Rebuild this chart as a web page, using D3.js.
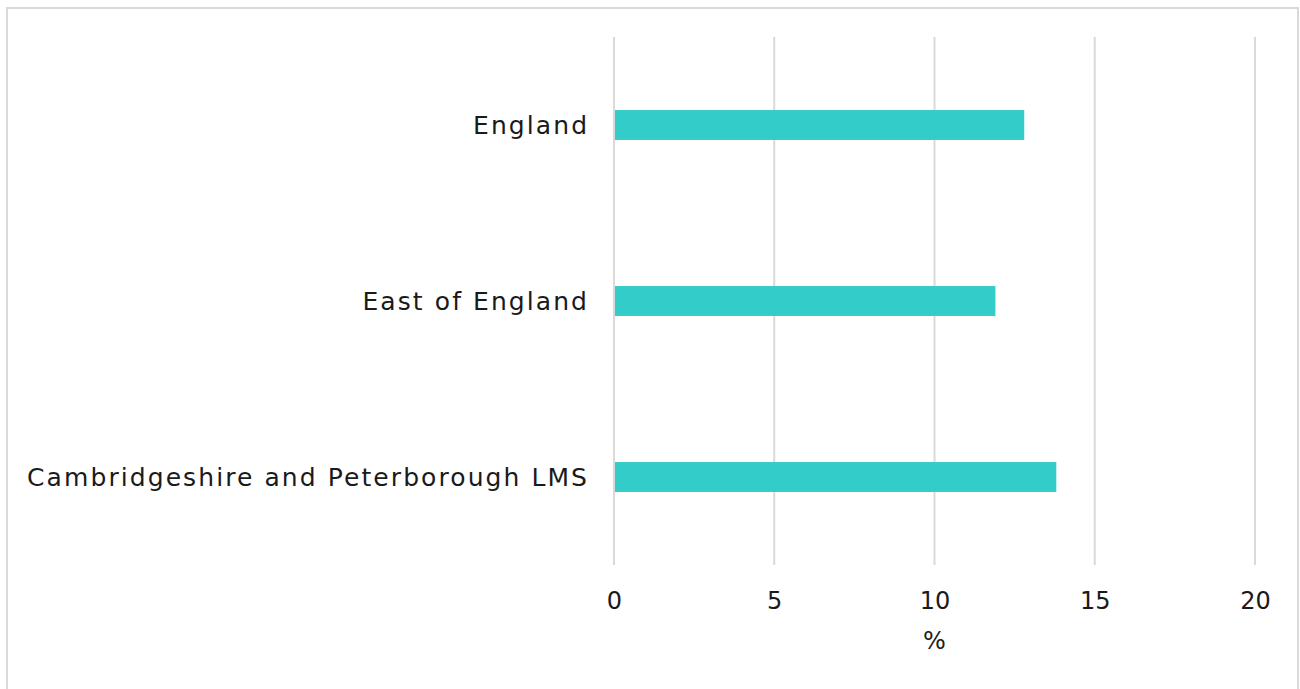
<!DOCTYPE html>
<html><head><meta charset="utf-8">
<script src="https://cdn.jsdelivr.net/npm/d3@7"></script>
<style>
html,body{margin:0;padding:0;background:#fff;}
svg{display:block;}
text{font-family:"DejaVu Sans",sans-serif;fill:#1a1a1a;}
</style></head><body>
<svg id="chart" width="1300" height="689"></svg>
<script>
const categories = ["England", "East of England", "Cambridgeshire and Peterborough LMS"];
const values = [12.8, 11.9, 13.8];
const tickValues = [0, 5, 10, 15, 20];
const axisTitle = "%";

const svg = d3.select("#chart");
const W = 1300, H = 689;
const m = {left: 614, right: 45, top: 37, bottom: 124};

svg.append("rect").attr("x", 7).attr("y", 8).attr("width", 1291).attr("height", 700)
  .attr("fill", "#fff").attr("stroke", "#d9d9d9").attr("stroke-width", 2);

const x = d3.scaleLinear().domain([0, 20]).range([m.left, W - m.right]);
const y = d3.scaleBand().domain(categories).range([m.top, H - m.bottom]).paddingInner(0.83).paddingOuter(0.415);

// gridlines
svg.append("g").selectAll("line").data(tickValues).join("line")
  .attr("x1", d => x(d)).attr("x2", d => x(d))
  .attr("y1", m.top).attr("y2", H - m.bottom)
  .attr("stroke", "#d9d9d9").attr("stroke-width", 2);

// bars
svg.append("g").selectAll("rect").data(values).join("rect")
  .attr("x", x(0) + 1).attr("y", (d, i) => y(categories[i]))
  .attr("width", d => x(d) - x(0) - 1).attr("height", y.bandwidth())
  .attr("fill", "#33CCC8");

// x axis
const xAxis = d3.axisBottom(x).tickValues(tickValues).tickSize(0).tickPadding(0);
const gx = svg.append("g").attr("transform", `translate(0,${H - m.bottom})`).call(xAxis);
gx.select(".domain").remove();
gx.selectAll("text").attr("font-size", 24).attr("dy", null).attr("y", 44)
  .style("font-family", "'DejaVu Sans',sans-serif").attr("fill", "#1a1a1a");

// y axis
const yAxis = d3.axisLeft(y).tickSize(0).tickPadding(27);
const gy = svg.append("g").attr("transform", `translate(${m.left},0)`).call(yAxis);
gy.select(".domain").remove();
const ylab = gy.selectAll("text").attr("font-size", 25).attr("dy", "0.35em")
  .style("font-family", "'DejaVu Sans',sans-serif").attr("fill", "#1a1a1a");

// fit letter spacing so the longest label spans like the reference
let longest = null, maxW = 0;
ylab.each(function(){ const w = this.getComputedTextLength(); if (w > maxW){maxW = w; longest = this;} });
const target = 562;
const n = longest.textContent.length;
const ls = Math.max(0, (target - maxW) / n);
ylab.attr("letter-spacing", ls).attr("dx", ls);

svg.append("text").attr("x", x(10)).attr("y", 649).attr("text-anchor", "middle")
  .attr("font-size", 24).text(axisTitle);
</script>
</body></html>
